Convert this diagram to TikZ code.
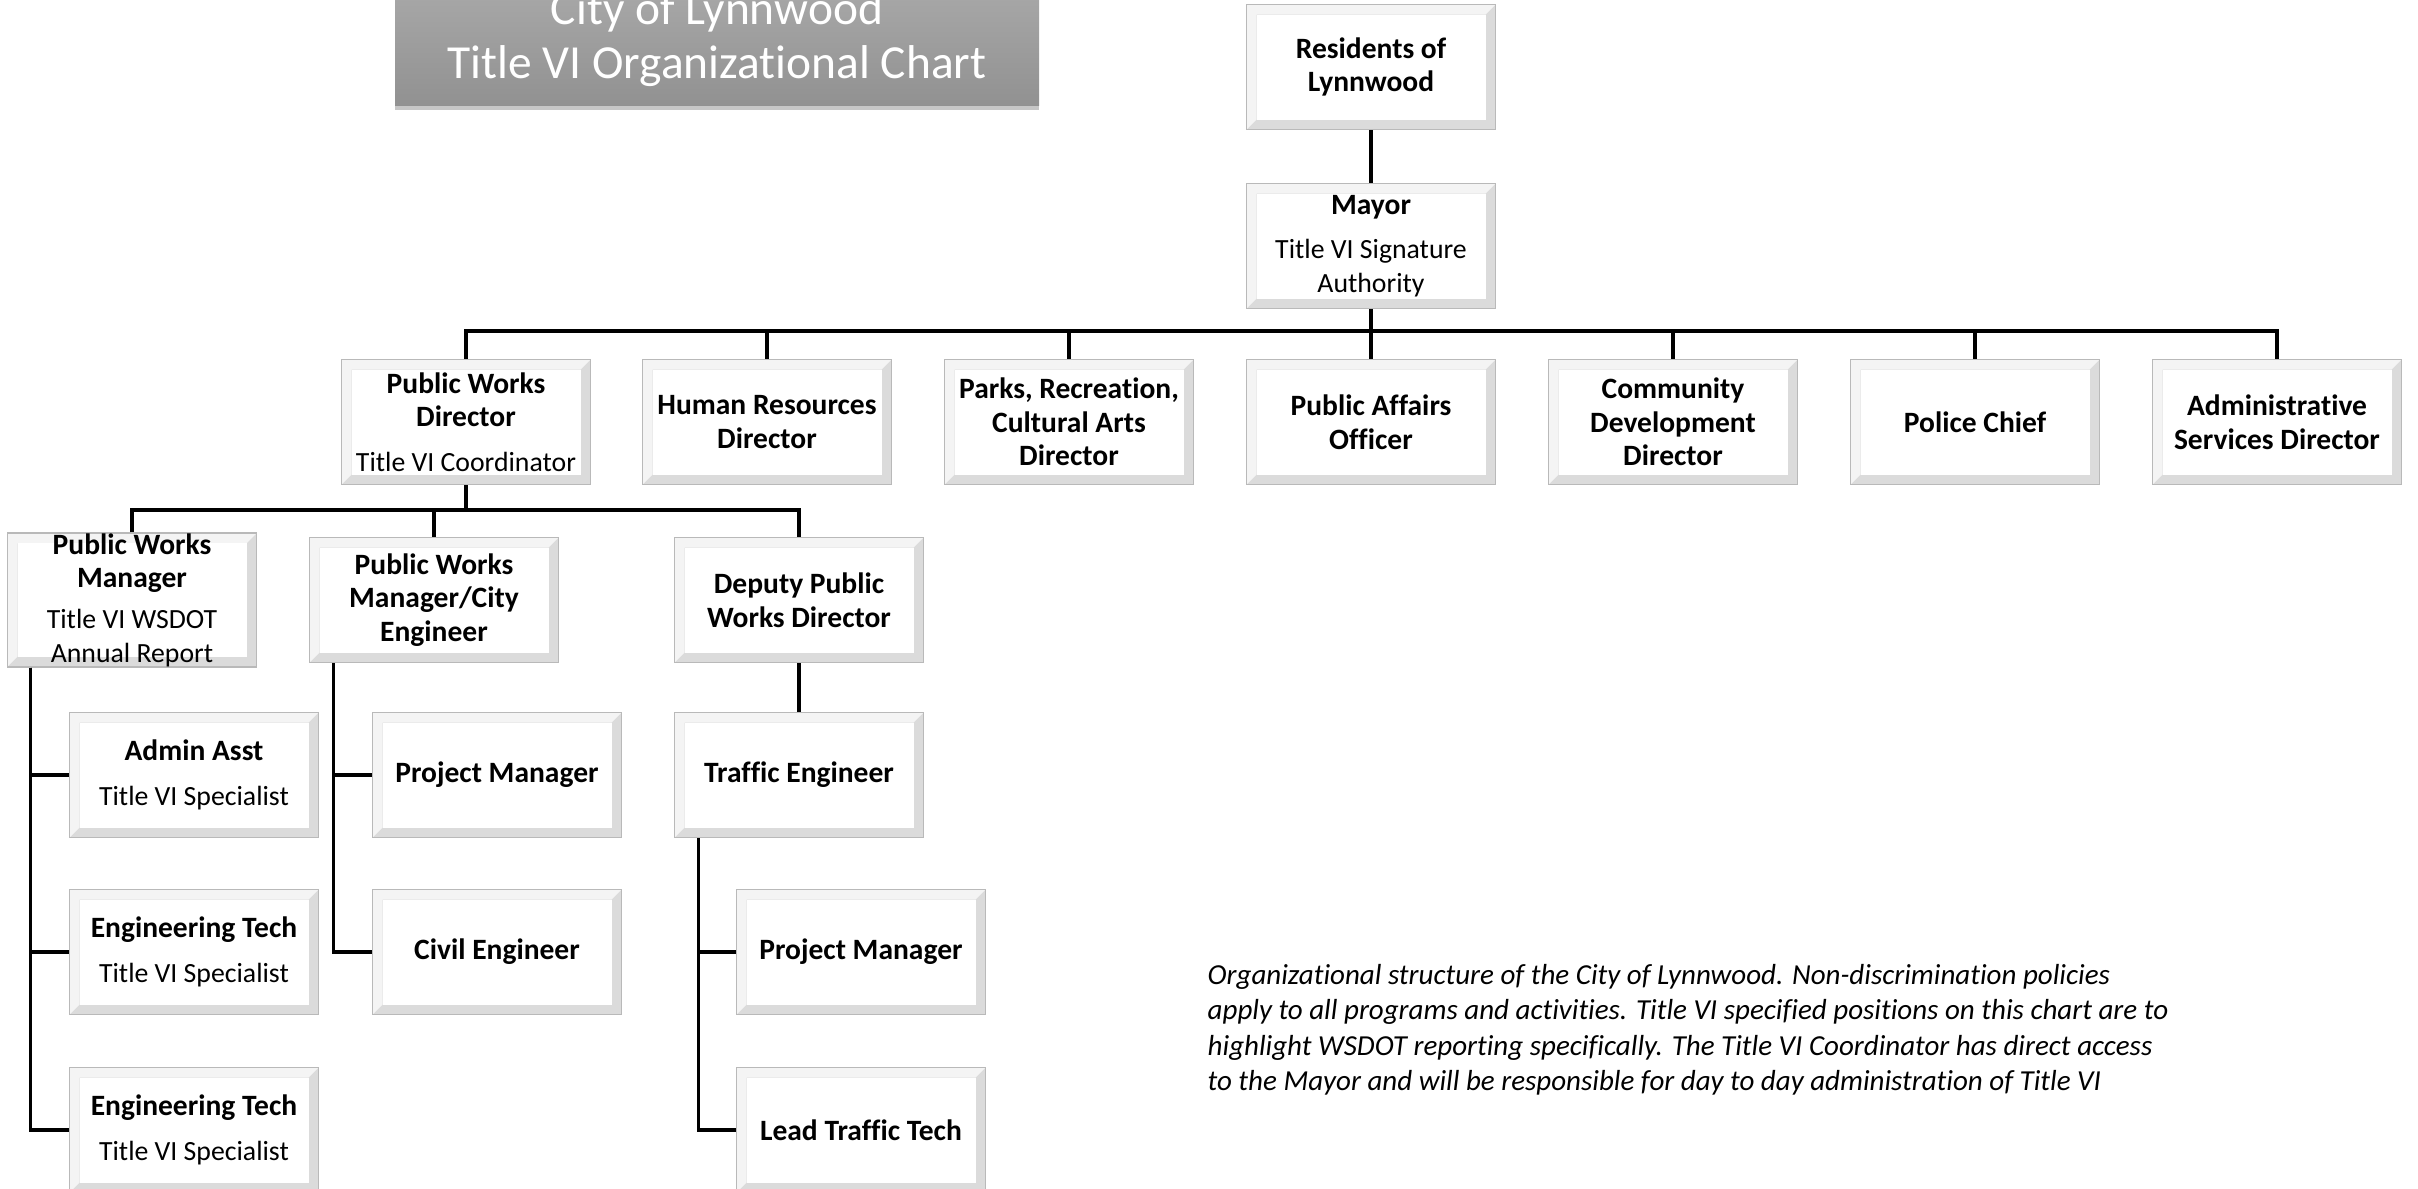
\documentclass[tikz,border=0pt]{standalone}
\usepackage{fontspec}
\setmainfont{Carlito}[Ligatures=NoCommon]
\usetikzlibrary{calc,shadows}

\newcommand{\subrole}[1]{{\mdseries\fontsize{7.9}{8.8}\selectfont #1}}

\begin{document}
\begin{tikzpicture}[
    post/.style={rectangle, draw=gray!55, line width=0.5pt,
                 minimum width=2.49cm, minimum height=1.25cm,
                 inner sep=2pt, text centered, align=center,
                 fill=gray!28, font=\fontsize{8.4}{9.6}\selectfont\bfseries,
                 path picture={
                   \path (path picture bounding box.south west) coordinate (sw)
                         (path picture bounding box.north east) coordinate (ne);
                   \fill[gray!9] (sw) -- ++(0.1,0.1) |- ($(ne)+(-0.1,-0.1)$)
                         -- (ne) -- (sw |- ne) -- cycle;
                   \fill[white] ($(sw)+(0.1,0.1)$) rectangle ($(ne)+(-0.1,-0.1)$);
                 }},
    heading/.style={rectangle, minimum width=6.44cm, minimum height=1.32cm,
                 top color=black!33, bottom color=black!43,
                 text=white, align=center,
                 font=\fontsize{13.5}{15.4}\selectfont,
                 drop shadow={opacity=0.45, shadow xshift=0pt, shadow yshift=-1.5pt}},
    note/.style={align=left, inner sep=0pt,
                 font=\fontsize{8.25}{10}\selectfont\itshape},
    link/.style={line width=0.9pt}
]
    \clip (0,0) rectangle (24.18,-11.89);

    \node[heading] (title) at (7.17,-0.39)
        {City of Lynnwood\\Title VI Organizational Chart};

    % top of the chart
    \node[post] (res)   at (13.71,-0.67) {Residents of\\Lynnwood};
    \node[post] (mayor) at (13.71,-2.46)
        {Mayor\\[3pt]\subrole{Title VI Signature}\\\subrole{Authority}};

    % directors
    \node[post] (pwd)   at (4.66,-4.22)
        {Public Works\\Director\\[3pt]\subrole{Title VI Coordinator}};
    \node[post] (hrd)   at (7.67,-4.22)  {Human Resources\\Director};
    \node[post] (prcad) at (10.69,-4.22) {Parks, Recreation,\\Cultural Arts\\Director};
    \node[post] (pao)   at (13.71,-4.22) {Public Affairs\\Officer};
    \node[post] (cdd)   at (16.73,-4.22) {Community\\Development\\Director};
    \node[post] (chief) at (19.75,-4.22) {Police Chief};
    \node[post] (asd)   at (22.77,-4.22) {Administrative\\Services Director};

    % public works
    \node[post, inner ysep=0pt] (pwm) at (1.32,-6.00)
        {Public Works\\Manager\\[2pt]\subrole{Title VI WSDOT}\\\subrole{Annual Report}};
    \node[post] (pwce) at (4.34,-6.00) {Public Works\\Manager/City\\Engineer};
    \node[post] (dpwd) at (7.99,-6.00) {Deputy Public\\Works Director};

    \node[post] (aa)  at (1.94,-7.75)  {Admin Asst\\[3pt]\subrole{Title VI Specialist}};
    \node[post] (et1) at (1.94,-9.52)  {Engineering Tech\\[3pt]\subrole{Title VI Specialist}};
    \node[post] (et2) at (1.94,-11.30) {Engineering Tech\\[3pt]\subrole{Title VI Specialist}};

    \node[post] (pm1) at (4.97,-7.75) {Project Manager};
    \node[post] (ce)  at (4.97,-9.52) {Civil Engineer};

    \node[post] (te)  at (7.99,-7.75)  {Traffic Engineer};
    \node[post] (pm2) at (8.61,-9.52)  {Project Manager};
    \node[post] (ltt) at (8.61,-11.30) {Lead Traffic Tech};

    \node[note, anchor=north west] (txt) at (12.07,-9.64)
        {Organizational structure of the City of Lynnwood. Non-discrimination policies\\
         apply to all programs and activities. Title VI specified positions on this chart are to\\
         highlight WSDOT reporting specifically. The Title VI Coordinator has direct access\\
         to the Mayor and will be responsible for day to day administration of Title VI};

    % connectors
    \coordinate (bus1) at (13.71,-3.31);
    \coordinate (bus2) at (4.66,-5.10);

    \draw[link] (res) -- (mayor);
    \draw[link] (mayor.south) -- (bus1);
    \foreach \n in {pwd,hrd,prcad,pao,cdd,chief,asd}
        \draw[link] (\n.north) |- (bus1);

    \draw[link] (pwd.south) -- (bus2);
    \foreach \n in {pwm,pwce,dpwd}
        \draw[link] (\n.north) |- (bus2);

    \foreach \n in {aa,et1,et2}
        \draw[link] ([xshift=0.24cm]pwm.south west) |- (\n.west);
    \foreach \n in {pm1,ce}
        \draw[link] ([xshift=0.25cm]pwce.south west) |- (\n.west);
    \draw[link] (dpwd) -- (te);
    \foreach \n in {pm2,ltt}
        \draw[link] ([xshift=0.25cm]te.south west) |- (\n.west);

\end{tikzpicture}
\end{document}
